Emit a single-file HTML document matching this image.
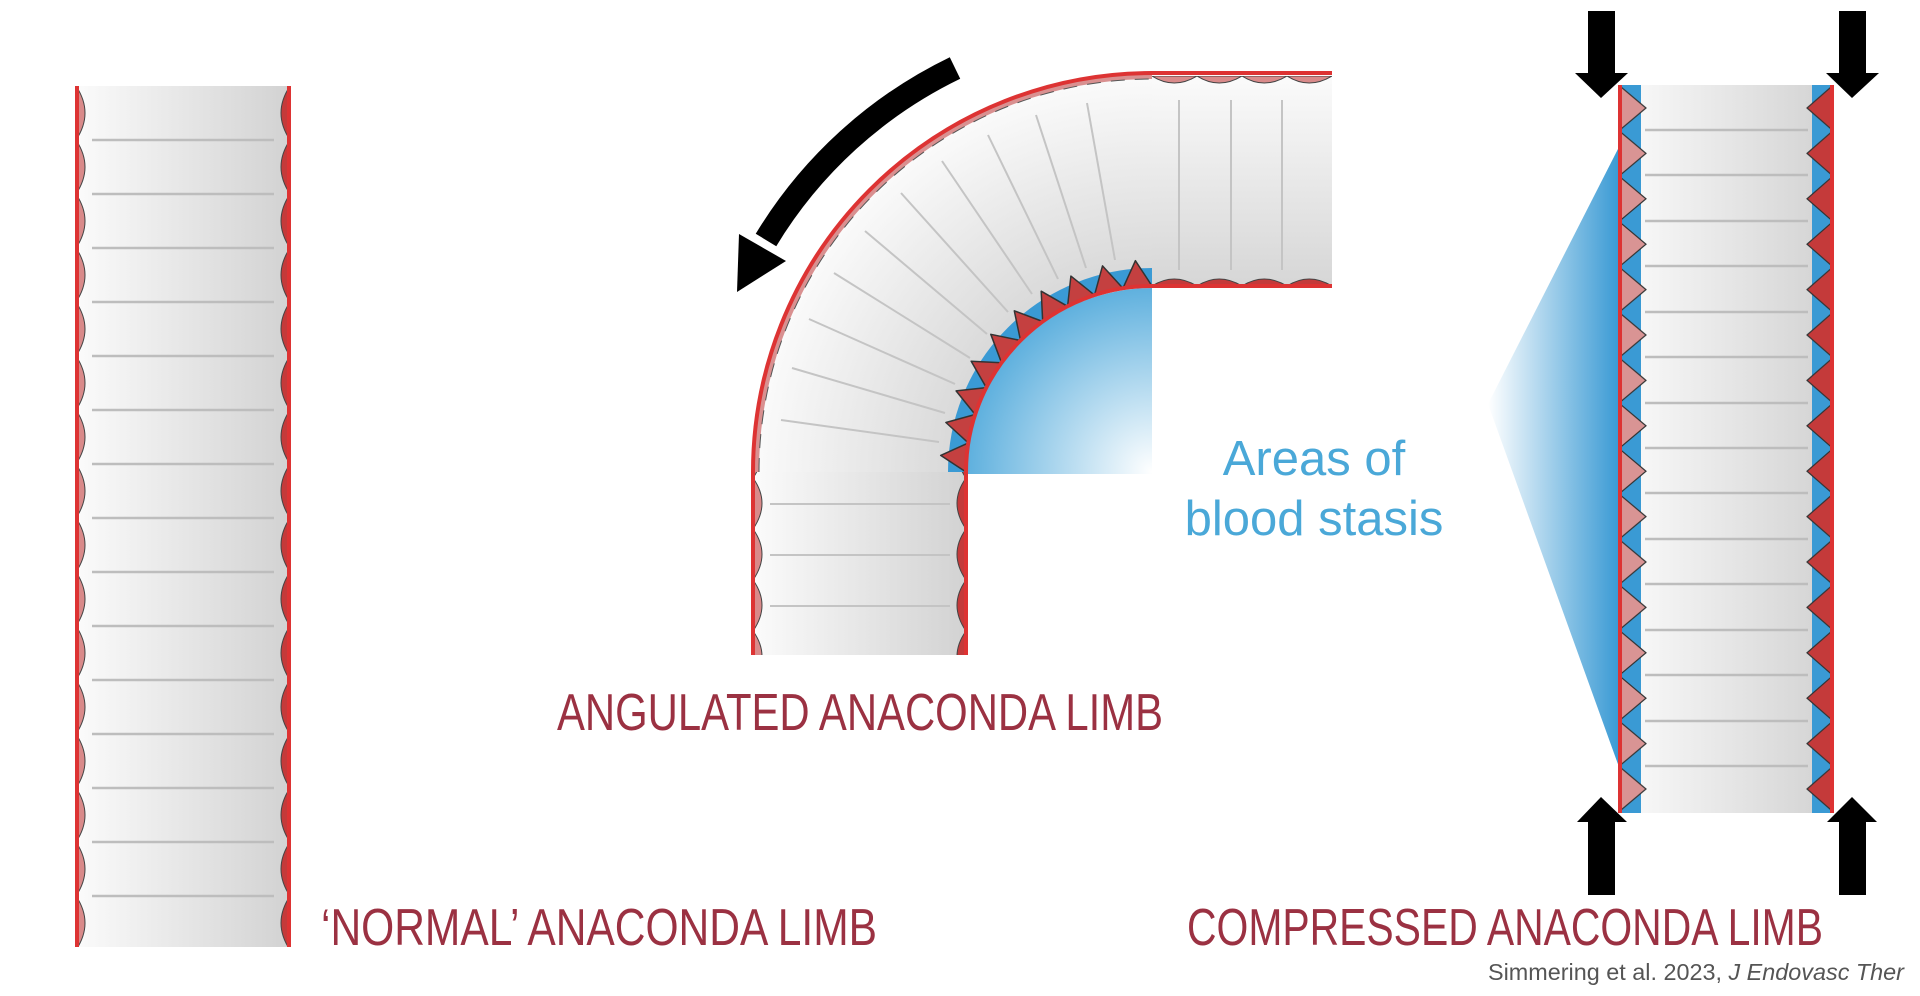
<!DOCTYPE html>
<html><head><meta charset="utf-8"><style>html,body{margin:0;padding:0;background:#fff}svg{display:block}</style></head>
<body>
<svg width="1920" height="996" viewBox="0 0 1920 996" xmlns="http://www.w3.org/2000/svg">
<defs>
<linearGradient id="tubeH" x1="0" x2="1" y1="0" y2="0"><stop offset="0" stop-color="#fbfbfb"/><stop offset="1" stop-color="#d2d2d2"/></linearGradient>
<linearGradient id="tubeV" x1="0" x2="0" y1="0" y2="1"><stop offset="0" stop-color="#fbfbfb"/><stop offset="1" stop-color="#d6d6d6"/></linearGradient>
<radialGradient id="tubeR" gradientUnits="userSpaceOnUse" cx="1152" cy="472" r="399"><stop offset="0.46" stop-color="#d6d6d6"/><stop offset="1" stop-color="#fbfbfb"/></radialGradient>
<radialGradient id="blueR" gradientUnits="userSpaceOnUse" cx="1152" cy="472" r="190"><stop offset="0" stop-color="#ffffff"/><stop offset="1" stop-color="#5aaedd"/></radialGradient>
<linearGradient id="fan" gradientUnits="userSpaceOnUse" x1="1488" x2="1619" y1="0" y2="0"><stop offset="0" stop-color="#ffffff"/><stop offset="1" stop-color="#3a9ad4"/></linearGradient>
<pattern id="bumpL" patternUnits="userSpaceOnUse" x="76" y="86" width="20" height="54"><path d="M0,0 Q18,27 0,54 Z" fill="#d98a8a" stroke="#444" stroke-width="1"/></pattern>
<pattern id="bumpR" patternUnits="userSpaceOnUse" x="270" y="86" width="20" height="54"><path d="M20,0 Q2,27 20,54 Z" fill="#c43a3a" stroke="#444" stroke-width="1"/></pattern>
<pattern id="bumpL2" patternUnits="userSpaceOnUse" x="753" y="478" width="20" height="51"><path d="M0,0 Q18,25 0,51 Z" fill="#d98a8a" stroke="#444" stroke-width="1"/></pattern>
<pattern id="bumpR2" patternUnits="userSpaceOnUse" x="946" y="478" width="20" height="51"><path d="M20,0 Q2,25 20,51 Z" fill="#c43a3a" stroke="#444" stroke-width="1"/></pattern>
<pattern id="bumpT" patternUnits="userSpaceOnUse" x="1152" y="76" width="45" height="20"><path d="M0,0 Q22,14 45,0 Z" fill="#d98a8a" stroke="#444" stroke-width="1"/></pattern>
<pattern id="bumpB" patternUnits="userSpaceOnUse" x="1152" y="272" width="45" height="14"><path d="M0,14 Q22,0 45,14 Z" fill="#c43a3a" stroke="#444" stroke-width="1"/></pattern>
<pattern id="toothL" patternUnits="userSpaceOnUse" x="1619" y="85.3" width="30" height="45.4"><rect x="0" y="0" width="22" height="45.4" fill="#3a9ad4"/><path d="M0,0 L27,22.7 L0,45.4 Z" fill="#d99494" stroke="#333" stroke-width="1.2"/></pattern>
<pattern id="toothR" patternUnits="userSpaceOnUse" x="1803" y="85.3" width="30" height="45.4"><rect x="9" y="0" width="21" height="45.4" fill="#3a9ad4"/><path d="M30,0 L4,22.7 L30,45.4 Z" fill="#c43a3a" stroke="#333" stroke-width="1.2"/></pattern>
</defs>

<!-- NORMAL TUBE -->
<rect x="76" y="86" width="214" height="861" fill="url(#tubeH)"/>
<g stroke="#bdbdbd" stroke-width="2.5">
<line x1="92" x2="274" y1="140" y2="140"/><line x1="92" x2="274" y1="194" y2="194"/><line x1="92" x2="274" y1="248" y2="248"/><line x1="92" x2="274" y1="302" y2="302"/><line x1="92" x2="274" y1="356" y2="356"/><line x1="92" x2="274" y1="410" y2="410"/><line x1="92" x2="274" y1="464" y2="464"/><line x1="92" x2="274" y1="518" y2="518"/><line x1="92" x2="274" y1="572" y2="572"/><line x1="92" x2="274" y1="626" y2="626"/><line x1="92" x2="274" y1="680" y2="680"/><line x1="92" x2="274" y1="734" y2="734"/><line x1="92" x2="274" y1="788" y2="788"/><line x1="92" x2="274" y1="842" y2="842"/><line x1="92" x2="274" y1="896" y2="896"/>
</g>
<rect x="76" y="86" width="20" height="861" fill="url(#bumpL)"/>
<rect x="270" y="86" width="20" height="861" fill="url(#bumpR)"/>
<rect x="75" y="86" width="4" height="861" fill="#d33"/>
<rect x="287" y="86" width="4" height="861" fill="#d33"/>

<!-- ANGULATED TUBE -->
<path d="M753,472 A399,399 0 0 1 1152,73 L1152,286 A186,186 0 0 0 966,472 Z" fill="url(#tubeR)"/>
<rect x="753" y="472" width="213" height="183" fill="url(#tubeH)"/>
<rect x="1152" y="75" width="180" height="211" fill="url(#tubeV)"/>
<g stroke="#c4c4c4" stroke-width="2">
<line x1="939" y1="442" x2="781" y2="420"/><line x1="945" y1="413" x2="792" y2="368"/><line x1="955" y1="384" x2="809" y2="319"/><line x1="970" y1="358" x2="834" y2="273"/><line x1="987" y1="334" x2="865" y2="231"/><line x1="1008" y1="312" x2="901" y2="193"/><line x1="1032" y1="294" x2="942" y2="161"/><line x1="1058" y1="279" x2="988" y2="135"/><line x1="1086" y1="268" x2="1036" y2="115"/><line x1="1115" y1="260" x2="1087" y2="103"/>
<line x1="1179" y1="100" x2="1179" y2="270"/><line x1="1231" y1="100" x2="1231" y2="270"/><line x1="1282" y1="100" x2="1282" y2="270"/>
<line x1="770" y1="504" x2="950" y2="504"/><line x1="770" y1="555" x2="950" y2="555"/><line x1="770" y1="606" x2="950" y2="606"/>
</g>
<path d="M966,474 A186,186 0 0 1 1152,288 L1152,474 Z" fill="url(#blueR)"/>
<rect x="753" y="472" width="20" height="183" fill="url(#bumpL2)"/>
<rect x="946" y="472" width="20" height="183" fill="url(#bumpR2)"/>
<rect x="1152" y="76" width="180" height="14" fill="url(#bumpT)"/>
<rect x="1152" y="272" width="180" height="14" fill="url(#bumpB)"/>
<path d="M756,472 A396,396 0 0 1 1152,76" fill="none" stroke="#d99090" stroke-width="6"/>
<path d="M759,472 A393,393 0 0 1 1152,79" fill="none" stroke="#555" stroke-width="1" stroke-dasharray="14 10"/>
<path d="M957,472 A195,195 0 0 1 1152,277" fill="none" stroke="#3a9ad4" stroke-width="18"/>
<path d="M966,472 L940.7,455.4 L968.3,442.9 L945.9,422.5 L975.1,414.5 L956.1,390.9 L986.3,387.6 L971.2,361.2 L1001.5,362.7 L990.8,334.3 L1020.5,340.5 L1014.3,310.8 L1042.7,321.5 L1041.2,291.2 L1067.6,306.3 L1070.9,276.1 L1094.5,295.1 L1102.5,265.9 L1122.9,288.3 L1135.4,260.7 L1152,286 A186,186 0 0 0 966,472 Z" fill="#c44040" stroke="#333" stroke-width="1.5" stroke-linejoin="round"/>
<path d="M753,655 L753,472 A399,399 0 0 1 1152,73 L1332,73" fill="none" stroke="#d33" stroke-width="4"/>
<path d="M966,655 L966,472 A186,186 0 0 1 1152,286 L1332,286" fill="none" stroke="#d33" stroke-width="4"/>

<!-- curved arrow -->
<path d="M955,68 A450,450 0 0 0 766,240" fill="none" stroke="#000" stroke-width="24"/>
<path d="M786,261 L739,234 L737,292 Z" fill="#000"/>

<!-- COMPRESSED TUBE -->
<path d="M1488,404 L1619,147 L1619,767 Z" fill="url(#fan)"/>
<rect x="1619" y="85" width="214" height="728" fill="url(#tubeH)"/>
<g stroke="#bdbdbd" stroke-width="2.5">
<line x1="1645" x2="1808" y1="130" y2="130"/><line x1="1645" x2="1808" y1="175" y2="175"/><line x1="1645" x2="1808" y1="221" y2="221"/><line x1="1645" x2="1808" y1="266" y2="266"/><line x1="1645" x2="1808" y1="312" y2="312"/><line x1="1645" x2="1808" y1="357" y2="357"/><line x1="1645" x2="1808" y1="403" y2="403"/><line x1="1645" x2="1808" y1="448" y2="448"/><line x1="1645" x2="1808" y1="493" y2="493"/><line x1="1645" x2="1808" y1="539" y2="539"/><line x1="1645" x2="1808" y1="584" y2="584"/><line x1="1645" x2="1808" y1="630" y2="630"/><line x1="1645" x2="1808" y1="675" y2="675"/><line x1="1645" x2="1808" y1="721" y2="721"/><line x1="1645" x2="1808" y1="766" y2="766"/>
</g>
<rect x="1619" y="85" width="30" height="728" fill="url(#toothL)"/>
<rect x="1803" y="85" width="30" height="728" fill="url(#toothR)"/>
<rect x="1618" y="85" width="4" height="728" fill="#d33"/>
<rect x="1830" y="85" width="4" height="728" fill="#d33"/>

<!-- straight arrows -->
<g fill="#000">
<rect x="1588" y="11" width="27" height="64"/><path d="M1575,73 L1628,73 L1601,98 Z"/>
<rect x="1839" y="11" width="27" height="64"/><path d="M1826,73 L1879,73 L1852,98 Z"/>
<rect x="1588" y="818" width="27" height="77"/><path d="M1577,822 L1627,822 L1601,797 Z"/>
<rect x="1839" y="818" width="27" height="77"/><path d="M1827,822 L1877,822 L1852,797 Z"/>
</g>

<!-- Labels -->
<g font-family="'Liberation Sans Narrow','Liberation Sans',sans-serif" fill="#9b3142" font-size="52">
<text x="557" y="730" textLength="606" lengthAdjust="spacingAndGlyphs">ANGULATED ANACONDA LIMB</text>
<text x="321" y="945" textLength="556" lengthAdjust="spacingAndGlyphs">‘NORMAL’ ANACONDA LIMB</text>
<text x="1187" y="945" textLength="636" lengthAdjust="spacingAndGlyphs">COMPRESSED ANACONDA LIMB</text>
</g>
<g font-family="'Liberation Sans',sans-serif" fill="#4aa8d8" font-size="49" text-anchor="middle">
<text x="1314" y="475">Areas of</text>
<text x="1314" y="535">blood stasis</text>
</g>
<text x="1904" y="980" text-anchor="end" font-family="'Liberation Sans Narrow','Liberation Sans',sans-serif" font-size="23" fill="#555" textLength="416" lengthAdjust="spacingAndGlyphs">Simmering et al. 2023, <tspan font-style="italic">J Endovasc Ther</tspan></text>
</svg>
</body></html>
